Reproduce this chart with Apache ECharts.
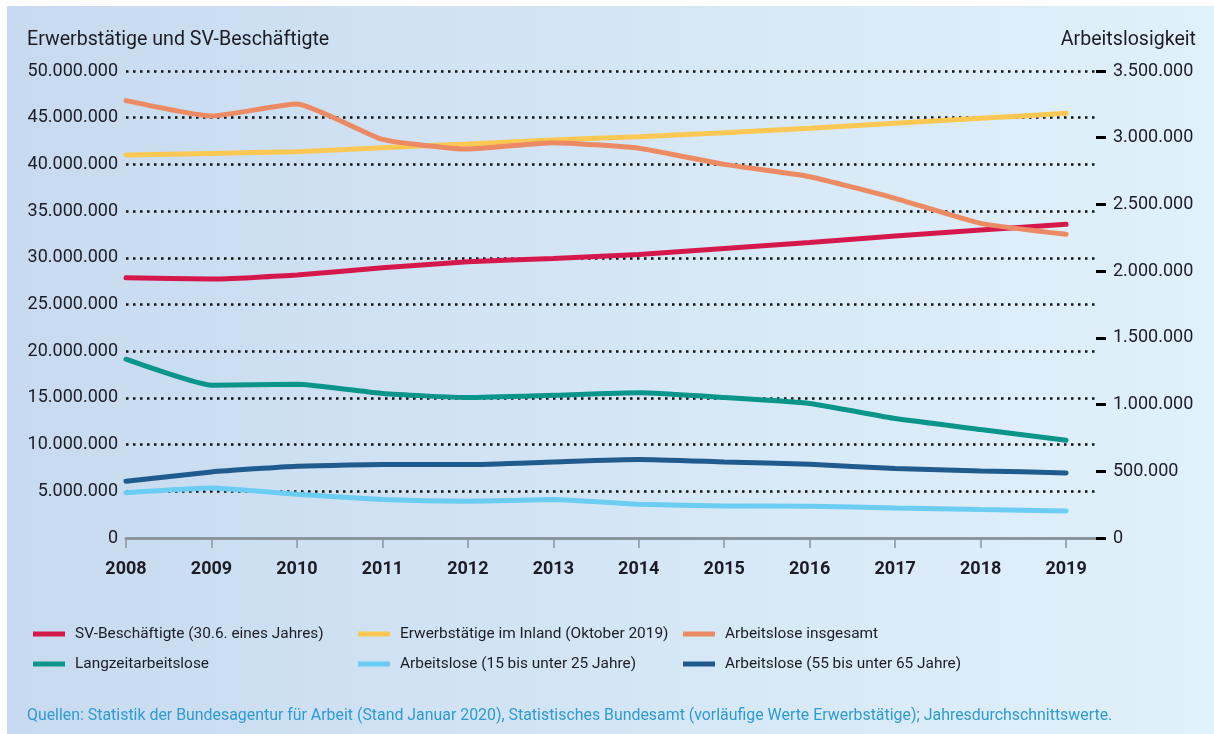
<!DOCTYPE html>
<html lang="de">
<head>
<meta charset="utf-8">
<title>Erwerbstätige, SV-Beschäftigte und Arbeitslosigkeit 2008–2019</title>
<script src="https://cdn.jsdelivr.net/npm/echarts@6/dist/echarts.min.js"></script>
<style>
  html, body { margin: 0; padding: 0; background: #ffffff; }
  #chart { width: 1214px; height: 734px; }
</style>
</head>
<body>
<div id="chart"></div>
<script>
// Jahre (x-Achse)
const years = [2008, 2009, 2010, 2011, 2012, 2013, 2014, 2015, 2016, 2017, 2018, 2019];

// Linke Achse: Erwerbstätige und SV-Beschäftigte
const svBeschaeftigte = [27860000, 27720000, 28150000, 28930000, 29570000, 29930000, 30360000, 31000000, 31650000, 32330000, 32970000, 33580000];
const erwerbstaetige  = [41000000, 41180000, 41360000, 41790000, 42180000, 42610000, 42970000, 43400000, 43860000, 44400000, 44930000, 45470000];

// Rechte Achse: Arbeitslosigkeit
const arbeitsloseGesamt = [3278000, 3163000, 3253000, 2988000, 2915000, 2963000, 2921000, 2800000, 2708000, 2546000, 2358000, 2276000];
const langzeitArbeitslose = [1340000, 1145000, 1153000, 1083000, 1053000, 1070000, 1088000, 1053000, 1008000, 895000, 813000, 733000];
const arbeitslose15bis25 = [340000, 375000, 328000, 288000, 275000, 288000, 253000, 240000, 238000, 225000, 213000, 203000];
const arbeitslose55bis65 = [425000, 495000, 538000, 550000, 550000, 570000, 588000, 570000, 553000, 520000, 503000, 488000];

// Achsenbeschriftungen
const leftTicks = [0, 5000000, 10000000, 15000000, 20000000, 25000000, 30000000, 35000000, 40000000, 45000000, 50000000];
const rightTicks = [0, 500000, 1000000, 1500000, 2000000, 2500000, 3000000, 3500000];

const seriesNames = {
  sv: 'SV-Beschäftigte (30.6. eines Jahres)',
  et: 'Erwerbstätige im Inland (Oktober 2019)',
  al: 'Arbeitslose insgesamt',
  lz: 'Langzeitarbeitslose',
  j: 'Arbeitslose (15 bis unter 25 Jahre)',
  a: 'Arbeitslose (55 bis unter 65 Jahre)'
};

const colors = {
  sv: '#d5184b',
  et: '#fbc853',
  al: '#ec8b63',
  lz: '#0a958b',
  j: '#6ccdf2',
  a: '#1f5b8c'
};

const FONT = 'Roboto, "Noto Sans", sans-serif';
const TEXT = '#1c1c26';

function fmt(v) {
  return String(Math.round(v)).replace(/\B(?=(\d{3})+(?!\d))/g, '.');
}
function pairs(vals) {
  return years.map((y, i) => [y, vals[i]]);
}
function lineSeries(key, vals, yAxisIndex) {
  return {
    name: seriesNames[key],
    type: 'line',
    yAxisIndex: yAxisIndex,
    data: pairs(vals),
    showSymbol: false,
    smooth: 0.15,
    lineStyle: { color: colors[key], width: 5, cap: 'round' },
    itemStyle: { color: colors[key] },
    emphasis: { disabled: true },
    z: 5
  };
}

const chart = echarts.init(document.getElementById('chart'), null, { renderer: 'canvas' });

const legendCommon = {
  orient: 'vertical',
  icon: 'rect',
  itemWidth: 32,
  itemHeight: 5,
  itemGap: 12,
  selectedMode: false,
  textStyle: { fontFamily: FONT, fontSize: 15.4, color: TEXT, lineHeight: 18, padding: [0, 0, 0, 5] }
};

chart.setOption({
  animation: false,
  graphic: [
    {
      type: 'rect',
      z: -10,
      silent: true,
      shape: { x: 7, y: 6, width: 1207, height: 728 },
      style: {
        fill: new echarts.graphic.LinearGradient(0, 0, 1, 0, [
          { offset: 0, color: '#c7daef' },
          { offset: 1, color: '#e1f1fb' }
        ])
      }
    },
    {
      type: 'text',
      left: 27,
      top: 30,
      style: { text: 'Erwerbstätige und SV-Beschäftigte', fontFamily: FONT, fontSize: 19.6, fill: TEXT }
    },
    {
      type: 'text',
      right: 18,
      top: 30,
      style: { text: 'Arbeitslosigkeit', fontFamily: FONT, fontSize: 19.6, fill: TEXT }
    },
    {
      type: 'text',
      left: 27,
      top: 708,
      style: {
        text: 'Quellen: Statistik der Bundesagentur für Arbeit (Stand Januar 2020), Statistisches Bundesamt (vorläufige Werte Erwerbstätige); Jahresdurchschnittswerte.',
        fontFamily: FONT, fontSize: 15.9, fill: '#2e9ad6'
      }
    }
  ],
  legend: [
    Object.assign({ left: 28, top: 620, data: [seriesNames.sv, seriesNames.lz] }, legendCommon),
    Object.assign({ left: 353, top: 620, data: [seriesNames.et, seriesNames.j] }, legendCommon),
    Object.assign({ left: 678, top: 620, data: [seriesNames.al, seriesNames.a] }, legendCommon)
  ],
  grid: { left: 126, right: 118, top: 71, bottom: 196, containLabel: false },
  xAxis: {
    type: 'value',
    min: 2008,
    max: 2019.35,
    interval: 1,
    z: 4,
    splitLine: { show: false },
    axisLine: { show: true, lineStyle: { color: '#8a959d', width: 3 } },
    axisTick: { show: true, customValues: years, length: 10, lineStyle: { color: '#8a959d', width: 1.5 } },
    axisLabel: {
      customValues: years,
      margin: 22,
      fontFamily: FONT, fontSize: 18, fontWeight: 'bold', color: TEXT,
      formatter: v => String(v)
    }
  },
  yAxis: [
    {
      type: 'value',
      position: 'left',
      min: 0,
      max: 50000000,
      interval: 5000000,
      z: 1,
      axisLine: { show: false },
      axisTick: { show: false },
      splitLine: { show: true, lineStyle: { color: '#111111', width: 2.5, type: [2.5, 4.5] } },
      axisLabel: {
        customValues: leftTicks,
        margin: 8,
        fontFamily: FONT, fontSize: 18, color: TEXT,
        formatter: v => fmt(v)
      }
    },
    {
      type: 'value',
      position: 'right',
      min: 0,
      max: 3500000,
      interval: 500000,
      z: 6,
      axisLine: { show: false },
      axisTick: { show: true, customValues: rightTicks, length: 10, inside: false, lineStyle: { color: '#000000', width: 3 } },
      splitLine: { show: false },
      axisLabel: {
        customValues: rightTicks,
        margin: 17,
        fontFamily: FONT, fontSize: 18, color: TEXT,
        formatter: v => fmt(v)
      }
    }
  ],
  series: [
    lineSeries('sv', svBeschaeftigte, 0),
    lineSeries('et', erwerbstaetige, 0),
    lineSeries('al', arbeitsloseGesamt, 1),
    lineSeries('lz', langzeitArbeitslose, 1),
    lineSeries('j', arbeitslose15bis25, 1),
    lineSeries('a', arbeitslose55bis65, 1)
  ]
});
</script>
</body>
</html>
